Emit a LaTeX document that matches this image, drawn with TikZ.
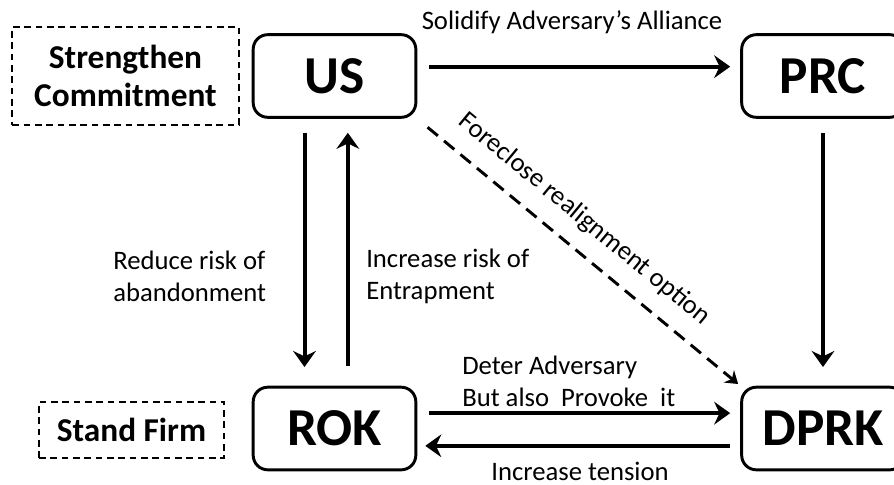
\documentclass[tikz,border=0pt]{standalone}
\usepackage{fontspec}
\setmainfont{Carlito}
\usetikzlibrary{arrows.meta}

\begin{document}
\begin{tikzpicture}[x=0.75pt,y=-0.75pt,
  actor/.style={draw,line width=2.2pt,rounded corners=11pt,minimum width=122pt,minimum height=62pt,font=\fontsize{40}{44}\selectfont\bfseries},
  stance/.style={draw,line width=1.2pt,dash pattern=on 5pt off 3.5pt,align=center,font=\fontsize{25}{28}\selectfont\bfseries},
  lbl/.style={align=left,inner sep=0pt,font=\fontsize{20}{24}\selectfont},
  link/.style={line width=3pt,-{Stealth[length=12pt,width=17pt,inset=4pt]}},
  dlink/.style={line width=2.2pt,dash pattern=on 10pt off 6pt,-{Stealth[length=9pt,width=12pt,inset=3pt]}}]
\useasboundingbox (0,0) rectangle (894,485);

\node[actor] (US) at (334.5,76) {US};
\node[actor] (PRC) at (823,76) {PRC};
\node[actor] (ROK) at (334.5,428.5) {ROK};
\node[actor] (DPRK) at (823,428.5) {DPRK};

\node[stance,minimum width=170pt,minimum height=73.5pt] (SC) at (125.5,76) {Strengthen\\Commitment};
\node[stance,minimum width=139pt,minimum height=42pt] (SF) at (131.5,430) {Stand Firm};

\draw[link,shorten <=9pt,shorten >=7.5pt] ([yshift=7pt]US.east) -- ([yshift=7pt]PRC.west);
\draw[link,shorten <=10.5pt,shorten >=14pt] ([xshift=-22.5pt]US.south) -- ([xshift=-22.5pt]ROK.north);
\draw[link,shorten <=15pt,shorten >=10.5pt] ([xshift=10pt]ROK.north) -- ([xshift=10pt]US.south);
\draw[link,shorten <=10.5pt,shorten >=14pt] (PRC.south) -- (DPRK.south |- DPRK.north);
\draw[link,shorten <=9pt,shorten >=7.5pt] ([yshift=11.5pt]ROK.east) -- ([yshift=11.5pt]DPRK.west);
\draw[link,shorten <=8pt,shorten >=6pt] ([yshift=-13pt]DPRK.west) -- ([yshift=-13pt]ROK.east);
\draw[dlink,shorten <=10pt,shorten >=2pt] (US.south east) -- node[lbl,sloped,above=12pt,pos=0.46] (fore) {Foreclose realignment option} (DPRK.north west);

\node[lbl] (solid) at (572,22) {Solidify Adversary’s Alliance};
\node[lbl,anchor=west] (reduce) at (113,276) {Reduce risk of\\abandonment};
\node[lbl,anchor=west] (raise) at (366,276) {Increase risk of\\Entrapment};
\node[lbl,anchor=west] (deter) at (462,381) {Deter Adversary\\But also~ Provoke~ it};
\node[lbl] (tension) at (580,471) {Increase tension};

\end{tikzpicture}
\end{document}
